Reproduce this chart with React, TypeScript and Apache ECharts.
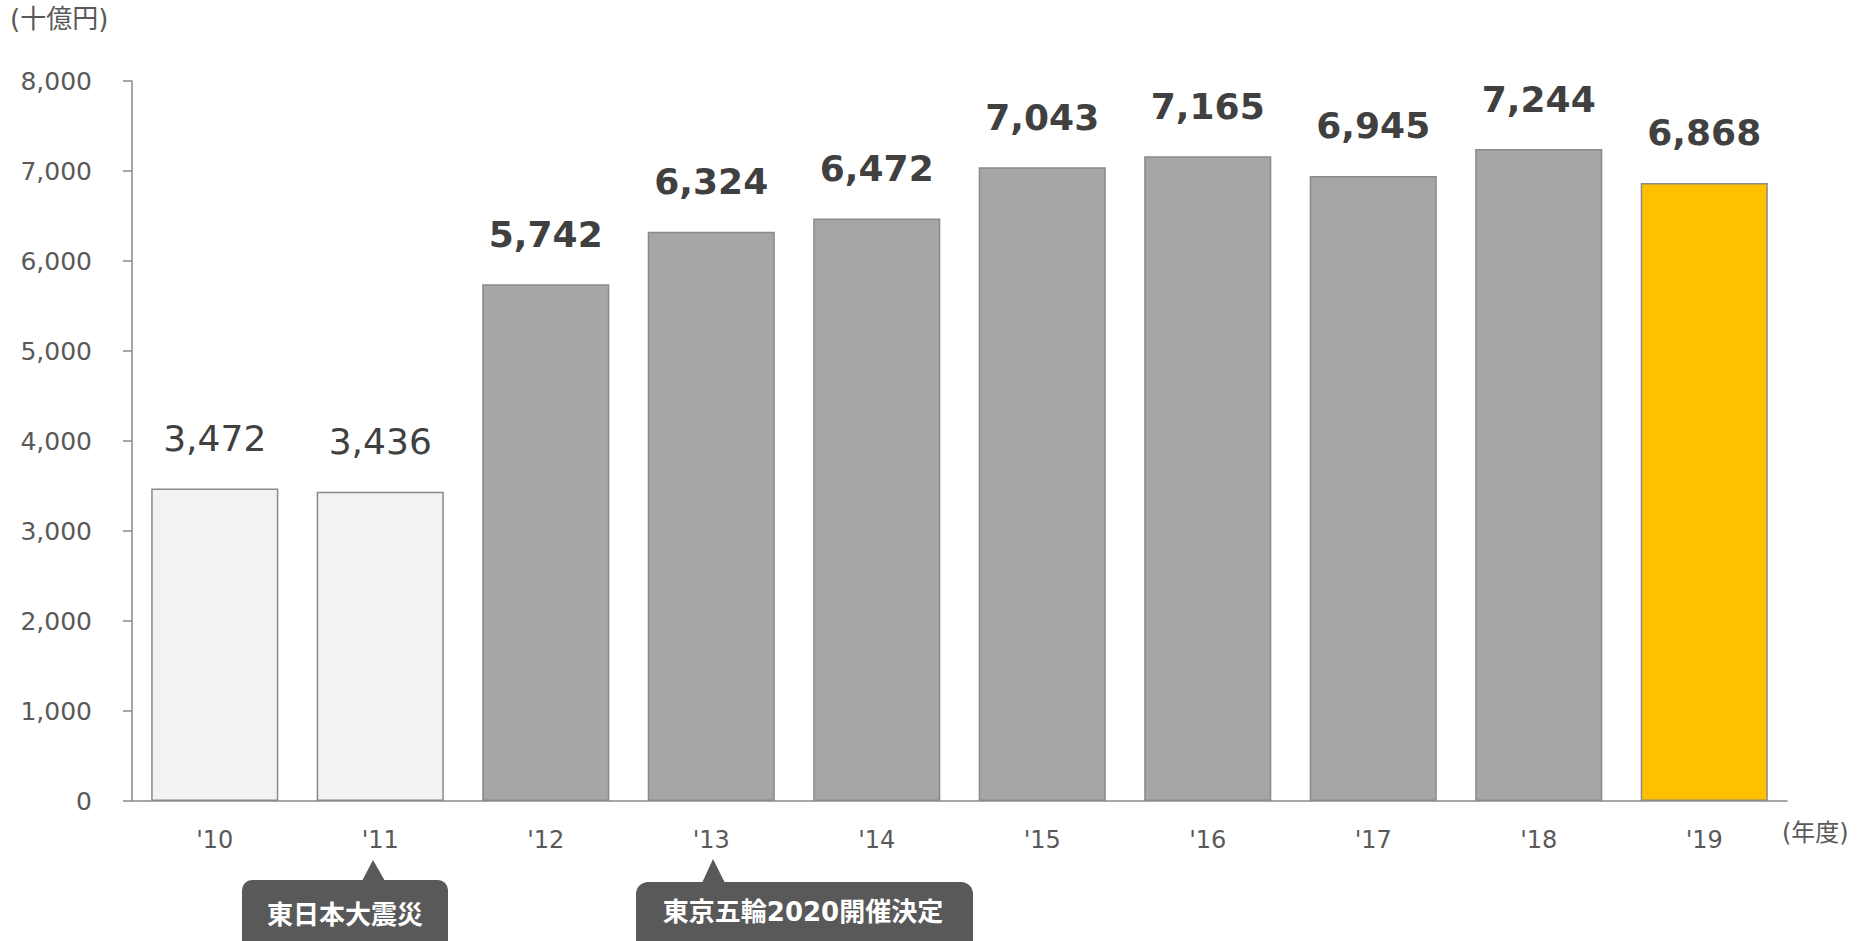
import React, { useEffect, useRef } from "react";
import * as echarts from "echarts";

const categories = ["'10", "'11", "'12", "'13", "'14", "'15", "'16", "'17", "'18", "'19"];
const values = [3472, 3436, 5742, 6324, 6472, 7043, 7165, 6945, 7244, 6868];
const barColors = ["#f2f2f2", "#f2f2f2", "#a6a6a6", "#a6a6a6", "#a6a6a6", "#a6a6a6", "#a6a6a6", "#a6a6a6", "#a6a6a6", "#ffc000"];
const boldLabels = [false, false, true, true, true, true, true, true, true, true];
const yTicks = [0, 1000, 2000, 3000, 4000, 5000, 6000, 7000, 8000];
const yUnit = "(十億円)";
const xUnit = "(年度)";
const callout1 = "東日本大震災";
const callout2 = "東京五輪2020開催決定";

const FONT = "'DejaVu Sans', 'Noto Sans CJK JP', sans-serif";

export default function App() {
  const ref = useRef<HTMLDivElement>(null);
  useEffect(() => {
    document.body.style.margin = "0";
    if (!ref.current) return;
    const chart = echarts.init(ref.current, null, { renderer: "svg" });
    chart.setOption({
      animation: false,
      backgroundColor: "#ffffff",
      textStyle: { fontFamily: FONT },
      grid: { left: 132, right: 71, top: 81, bottom: 140, containLabel: false },
      xAxis: {
        type: "category",
        data: categories,
        axisLine: { show: true, lineStyle: { color: "#8a8a8a", width: 1.5 } },
        axisTick: { show: false },
        axisLabel: { color: "#595959", fontSize: 24, margin: 27, fontFamily: FONT },
      },
      yAxis: {
        type: "value",
        min: yTicks[0],
        max: yTicks[yTicks.length - 1],
        interval: 1000,
        splitLine: { show: false },
        axisLine: { show: true, lineStyle: { color: "#8a8a8a", width: 1.5 } },
        axisTick: { show: true, length: 9, lineStyle: { color: "#8a8a8a", width: 1.5 } },
        axisLabel: {
          color: "#595959",
          fontSize: 25,
          margin: 40,
          fontFamily: FONT,
          formatter: (v: number) => v.toLocaleString("en-US"),
        },
      },
      series: [
        {
          type: "bar",
          barWidth: "76.8%",
          data: values.map((v, i) => ({
            value: v,
            itemStyle: { color: barColors[i], borderColor: "#8a8a8a", borderWidth: 1.5 },
            label: {
              show: true,
              position: "top",
              distance: 32,
              fontSize: 36,
              lineHeight: 36,
              fontWeight: boldLabels[i] ? "bold" : "normal",
              color: "#404040",
              fontFamily: FONT,
              formatter: (p: any) => Number(p.value).toLocaleString("en-US"),
            },
          })),
        },
      ],
      graphic: [
        {
          type: "text",
          left: 10,
          top: 6,
          style: { text: yUnit, fontSize: 26, fill: "#595959", fontFamily: FONT },
        },
        {
          type: "text",
          x: 1782,
          y: 833,
          style: { text: xUnit, fontSize: 24, fill: "#595959", fontFamily: FONT, verticalAlign: "middle" },
        },
        {
          type: "rect",
          shape: { x: 242, y: 880, width: 206, height: 72, r: 10 },
          style: { fill: "#595959" },
        },
        {
          type: "polygon",
          shape: { points: [[362, 881], [373, 860], [385, 881]] },
          style: { fill: "#595959" },
        },
        {
          type: "text",
          x: 345,
          y: 915,
          style: {
            text: callout1,
            fontSize: 26,
            fontWeight: "bold",
            fill: "#ffffff",
            fontFamily: FONT,
            align: "center",
            verticalAlign: "middle",
          },
        },
        {
          type: "rect",
          shape: { x: 636, y: 882, width: 337, height: 72, r: 12 },
          style: { fill: "#595959" },
        },
        {
          type: "polygon",
          shape: { points: [[702, 883], [713, 859], [725, 883]] },
          style: { fill: "#595959" },
        },
        {
          type: "text",
          x: 803,
          y: 912,
          style: {
            text: callout2,
            fontSize: 26,
            fontWeight: "bold",
            fill: "#ffffff",
            fontFamily: FONT,
            align: "center",
            verticalAlign: "middle",
          },
        },
      ],
    });
    return () => chart.dispose();
  }, []);
  return <div ref={ref} style={{ width: 1858, height: 941 }} />;
}
